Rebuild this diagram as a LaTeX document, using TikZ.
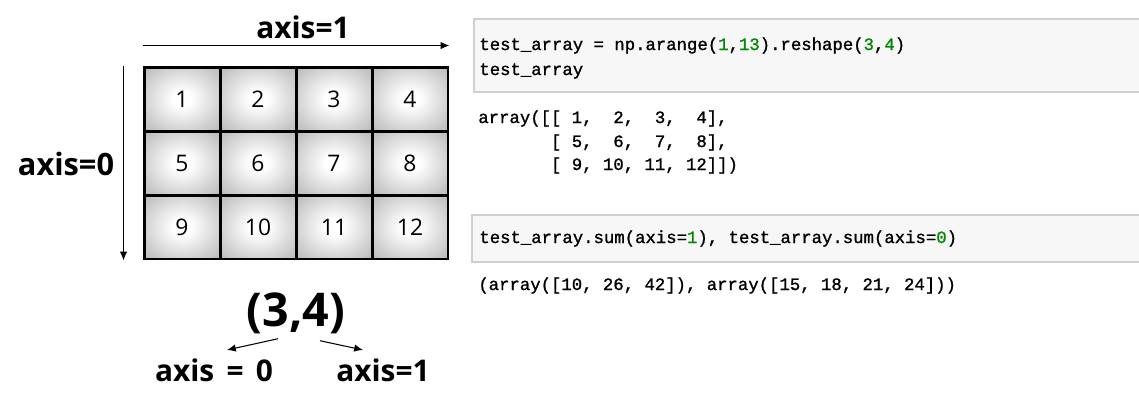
\documentclass[tikz,border=0pt]{standalone}
\usepackage{fontspec}
\setmainfont{Open Sans}
\setmonofont[FakeBold=1.2]{Liberation Mono}
\usetikzlibrary{arrows.meta, positioning}

\definecolor{codebg}{HTML}{F7F7F7}
\definecolor{codeline}{HTML}{CFCFCF}
\definecolor{numgreen}{HTML}{008800}
\pgfdeclareradialshading{cellshade}{\pgfpoint{0bp}{0bp}}{color(0bp)=(white); color(6bp)=(white); color(50bp)=(black!42); color(71bp)=(black!58)}
\newcommand{\nm}[1]{\textcolor{numgreen}{#1}}

\begin{document}
\begin{tikzpicture}[x=0.02cm, y=-0.02cm,
  cell/.style={draw, line width=1.7pt, minimum width=1.52cm, minimum height=1.28cm,
    inner sep=0pt, shading=cellshade, font=\fontsize{13}{15}\selectfont},
  lbl/.style={inner sep=0pt, anchor=base, font=\fontsize{17}{20}\selectfont\bfseries},
  axisarrow/.style={line width=0.75pt, -{Latex[length=5pt,width=4.2pt]}},
  codecell/.style={fill=codebg, draw=codeline, line width=0.8pt},
  code/.style={inner sep=0pt, anchor=base west, font=\fontsize{9.85}{12}\selectfont\ttfamily}]
  \useasboundingbox (0,0) rectangle (1139,400);

  % the 3x4 grid
  \foreach \r in {1,2,3}{
    \foreach \c in {1,...,4}{
      \pgfmathtruncatemacro{\n}{4*(\r-1)+\c}
      \node[cell] (c\r\c) at (106+76*\c, 35+64*\r) {\n};
    }
  }

  % axis arrows
  \draw[axisarrow] ([shift={(0,-20)}]c11.north west) -- ([shift={(0,-20)}]c14.north east);
  \draw[axisarrow] ([shift={(-19,0)}]c11.north west) -- ([shift={(-19,0)}]c31.south west);
  \node[lbl] (top1) at (303,38) {axis=1};
  \node[lbl, font=\fontsize{17.5}{20}\selectfont\bfseries] (left0) at (66,175) {axis=0};

  % shape
  \node[lbl, font=\fontsize{26.5}{30}\selectfont\bfseries] (shape) at (296,326) {(3,4)};
  \node[lbl] (ax0) at (214,381) {axis\hspace{0.15em} = \hspace{0.15em}0};
  \node[lbl] (ax1) at (383,381) {axis=1};
  \draw[axisarrow, line width=0.6pt] ([shift={(-18,5)}]shape.south) -- ([shift={(13,-8)}]ax0.north);
  \draw[axisarrow, line width=0.6pt] ([shift={(24,7)}]shape.south) -- ([shift={(-20,-8)}]ax1.north);

  % notebook cells
  \path[codecell] (474,19) rectangle (1150,92);
  \node[code] (in1a) at (479,50) {test\_array = np.arange(\nm{1},\nm{13}).reshape(\nm{3},\nm{4})};
  \node[code] (in1b) at (479,75) {test\_array};
  \node[code] (out1a) at (478,123) {array([[~1,~~2,~~3,~~4],};
  \node[code] (out1b) at (478,147) {~~~~~~~[~5,~~6,~~7,~~8],};
  \node[code] (out1c) at (478,170) {~~~~~~~[~9,~10,~11,~12]])};

  \path[codecell] (472,215) rectangle (1150,262);
  \node[code] (in2) at (479,243) {test\_array.sum(axis=\nm{1}), test\_array.sum(axis=\nm{0})};
  \node[code] (out2) at (478,290) {(array([10, 26, 42]), array([15, 18, 21, 24]))};
\end{tikzpicture}
\end{document}
